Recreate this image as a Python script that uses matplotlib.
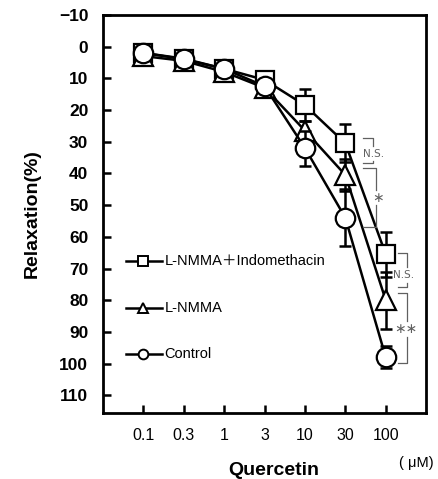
import matplotlib
matplotlib.use("Agg")
import matplotlib.pyplot as plt
import numpy as np

plt.rcParams['font.family'] = ['Liberation Sans', 'Noto Sans CJK JP', 'DejaVu Sans']

doses = ["0.1", "0.3", "1", "3", "10", "30", "100"]
indo_mean = [2, 4, 7, 10.5, 18.5, 30.5, 65.5]
indo_err = [0, 0, 0, 0, 5, 6, 7]
lnmma_mean = [3, 4.5, 8, 13, 26.5, 40.5, 80]
lnmma_err = [0, 0, 0, 0, 3, 5, 9]
ctrl_mean = [2, 3.8, 7, 12.5, 32, 54, 98]
ctrl_err = [0, 0, 0, 0, 5.5, 9, 3.5]
yticks = [-10, 0, 10, 20, 30, 40, 50, 60, 70, 80, 90, 100, 110]

fig = plt.figure(figsize=(4.38, 4.79), dpi=100)
ax = fig.add_axes([0.235, 0.138, 0.738, 0.831])
x = np.arange(1, len(doses) + 1)

series = [
    (indo_mean, indo_err, 's', 13, "L-NMMA\uff0bIndomethacin"),
    (lnmma_mean, lnmma_err, '^', 15, "L-NMMA"),
    (ctrl_mean, ctrl_err, 'o', 14, "Control"),
]
for i, (m, e, mk, ms, lab) in enumerate(series):
    ax.errorbar(x, m, yerr=e, fmt='none', ecolor='black', elinewidth=1.8,
                capsize=4, capthick=1.8, zorder=2 + i * 2)
    ax.plot(x, m, color='black', lw=1.8, marker=mk, ms=ms, mfc='white',
            mec='black', mew=1.6, zorder=3 + i * 2)

# legend drawn inside the axes
leg_y = [67.5, 82.5, 96.8]
for (m, e, mk, ms, lab), ly in zip(series, leg_y):
    ax.plot([0.58, 1.45], [ly, ly], color='black', lw=1.8, zorder=10)
    ax.plot([0.985], [ly], marker=mk, ms=7, mfc='white', mec='black',
            mew=1.4, zorder=11)
    ax.text(1.52, ly, lab, fontsize=10.5, va='center', ha='left', zorder=11)

# significance brackets
gray = '#606060'
def bracket(x0, x1, ytop, ybot, label, tx, ty, gap, fs):
    ax.plot([x0, x1, x1], [ytop, ytop, ty - gap], color=gray, lw=0.9, zorder=12)
    ax.plot([x1, x1, x0], [ty + gap, ybot, ybot], color=gray, lw=0.9, zorder=12)
    ax.text(tx, ty, label, fontsize=fs, color=gray, ha='center', va='center',
            zorder=12, family=['DejaVu Sans'])

bracket(6.43, 6.68, 28.7, 36.6, "N.S.", 6.70, 33.8, 2.4, 7.5)
bracket(6.43, 6.77, 38.2, 56.8, "\u2217", 6.80, 47.6, 2.5, 10)
bracket(7.30, 7.53, 65.0, 75.8, "N.S.", 7.45, 72.0, 2.4, 7.5)
bracket(7.30, 7.53, 77.6, 99.7, "\u2217\u2217", 7.50, 89.0, 2.5, 10)

ax.set_xlim(0, 8)
ax.set_ylim(115.5, -10)
ax.set_xticks(x)
ax.set_xticklabels(doses, fontsize=11.5)
ax.set_yticks(yticks)
ax.set_yticklabels([("\u221210" if t < 0 else str(t)) for t in yticks],
                   fontsize=12.5, fontweight='bold')
ax.tick_params(axis='both', direction='in', length=6, width=1.8)
ax.tick_params(axis='x', pad=11)
ax.tick_params(axis='y', pad=10.5)
for s in ax.spines.values():
    s.set_linewidth(2)

ax.set_ylabel("Relaxation(%)", fontsize=14, fontweight='bold', labelpad=13)
fig.text(0.626, 0.009, "Quercetin", fontsize=14, fontweight='bold', ha='center', va='baseline')
fig.text(0.989, 0.025, "( \u03bcM)", fontsize=10.5, ha='right', va='baseline')

fig.savefig("out.png", dpi=100)
